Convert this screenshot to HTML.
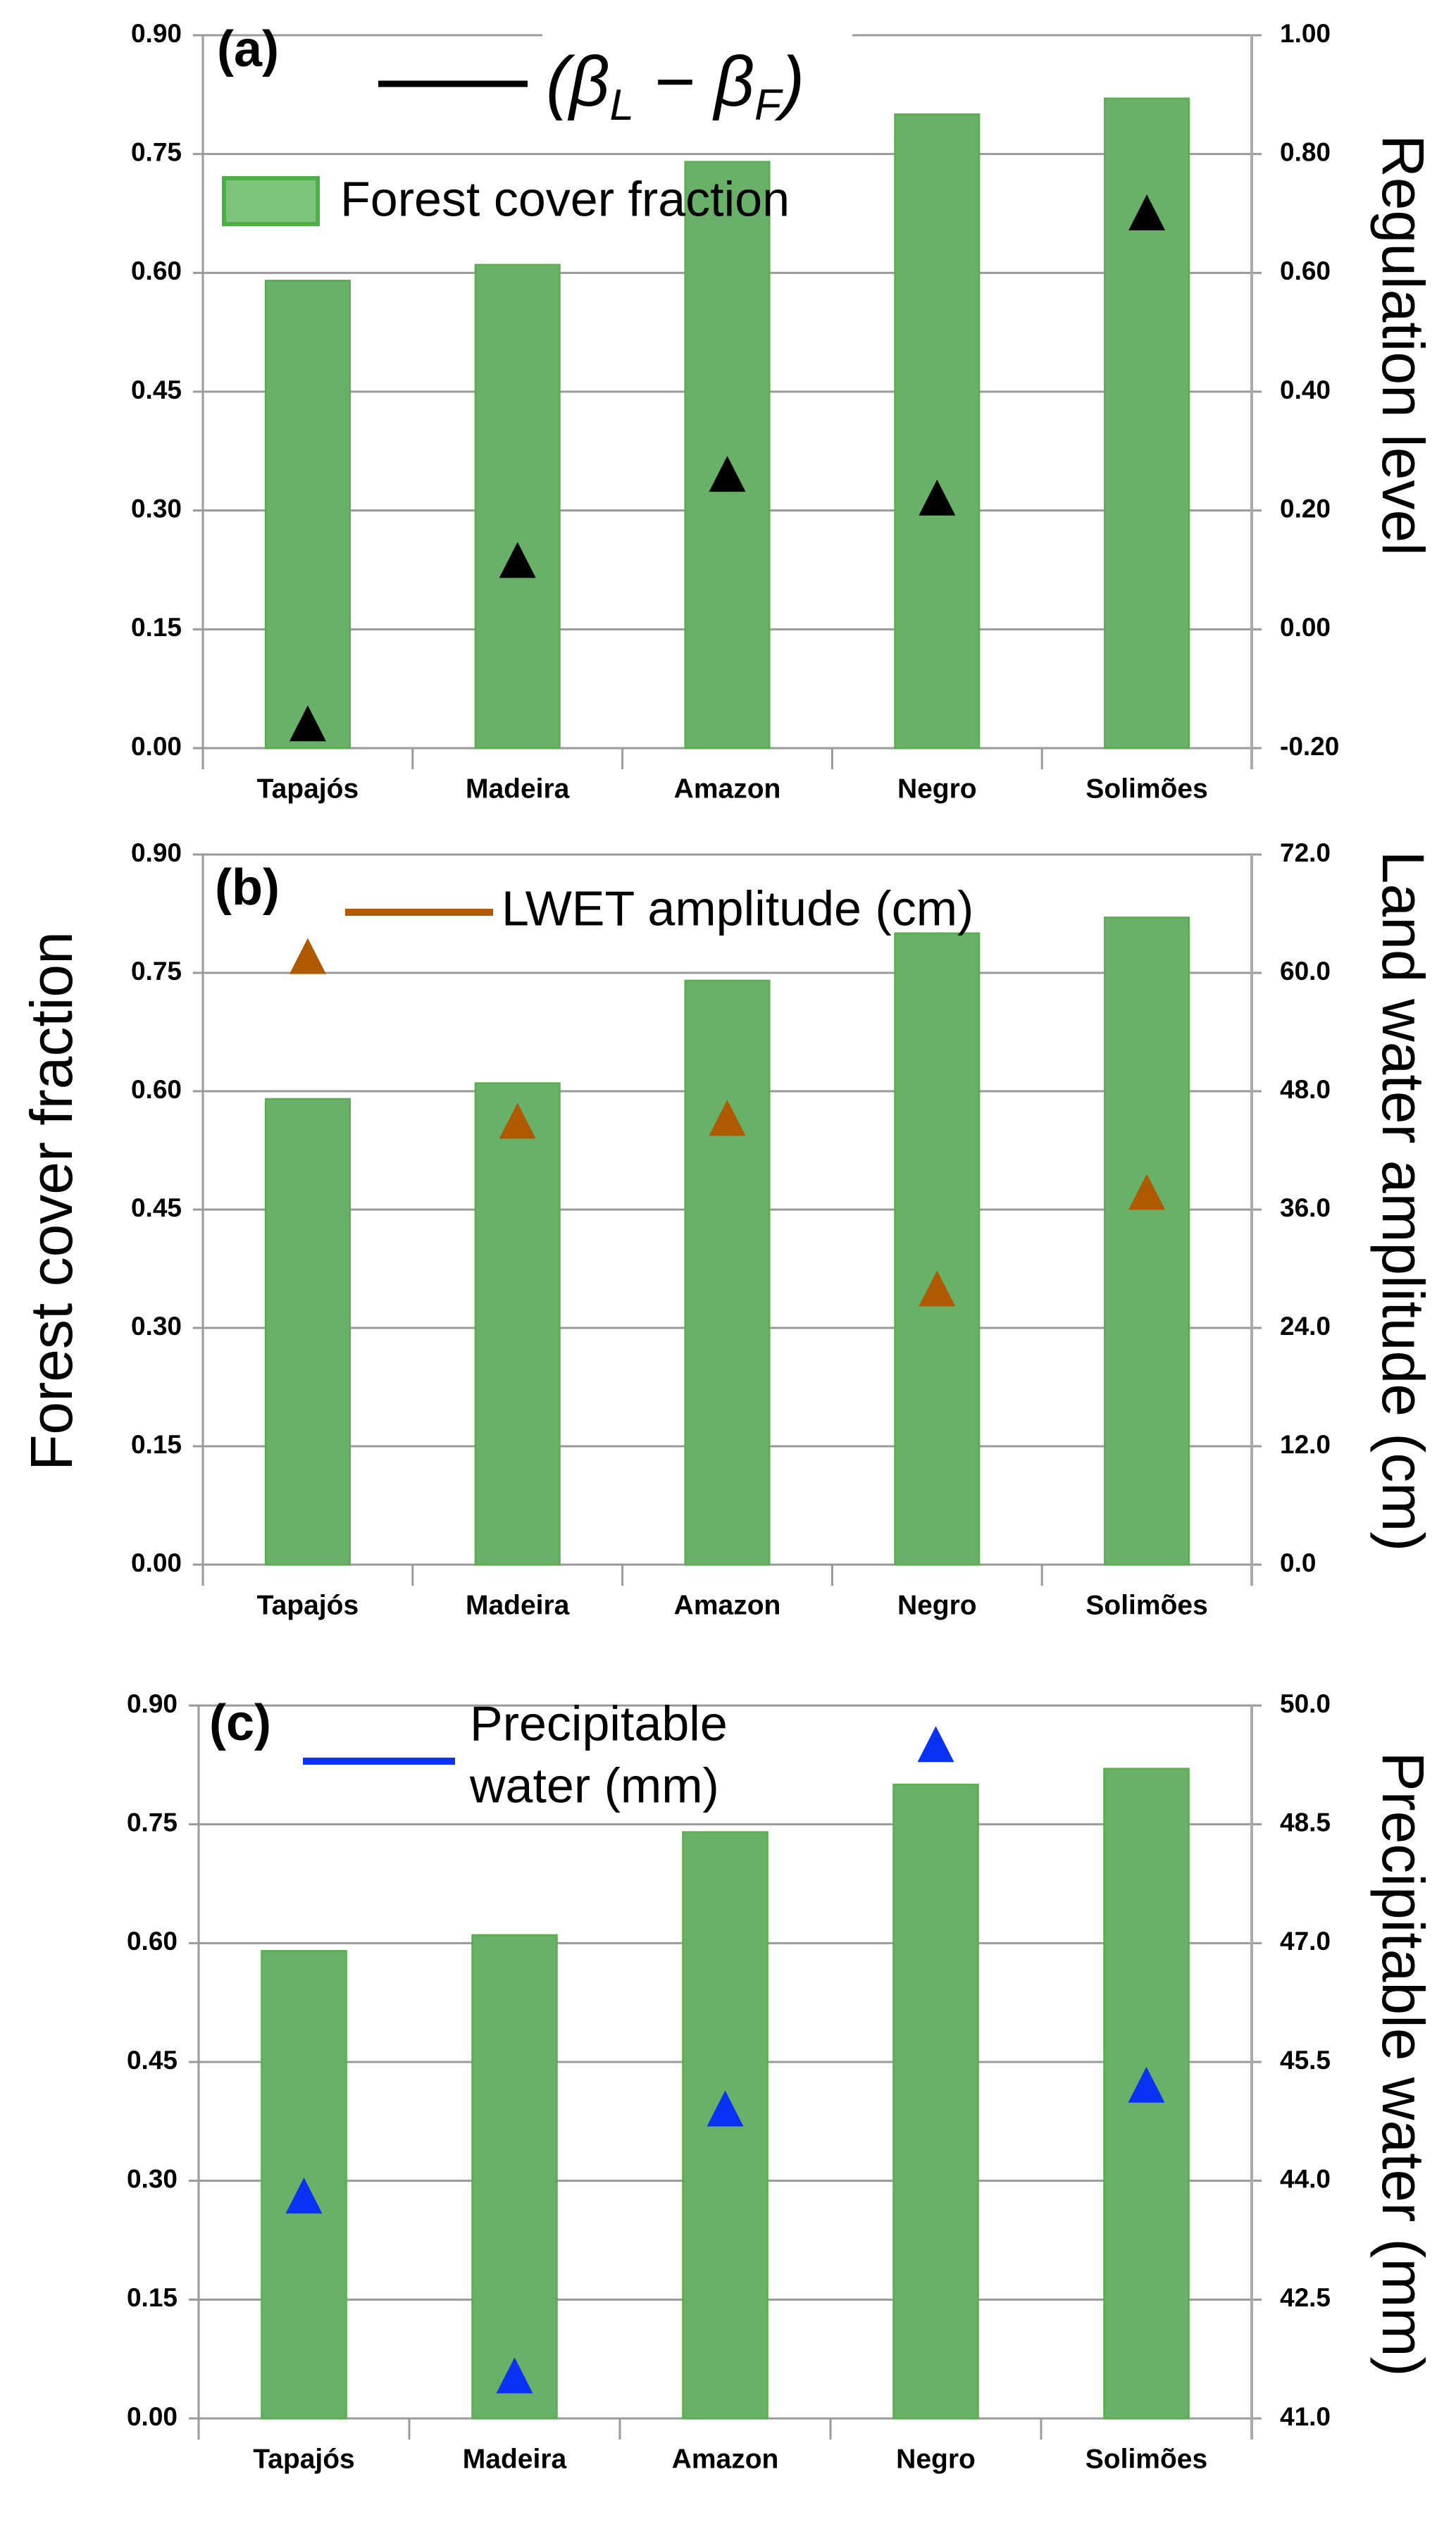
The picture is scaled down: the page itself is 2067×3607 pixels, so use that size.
<!DOCTYPE html>
<html><head><meta charset="utf-8"><style>
html,body{margin:0;padding:0;background:#fff;}
svg{display:block;}
text{font-family:"Liberation Sans",sans-serif;}
</style></head><body>
<svg id="chart" width="2067" height="3607" viewBox="0 0 2067 3607" xmlns="http://www.w3.org/2000/svg">
<text x="0" y="0" transform="translate(80,1705) rotate(-90)" font-size="84" text-anchor="middle" dominant-baseline="middle">Forest cover fraction</text>
</svg>
<script>
const categories = ["Tapajós","Madeira","Amazon","Negro","Solimões"];
const forestCover = [0.59, 0.61, 0.74, 0.80, 0.82];
const regulation = [-0.16, 0.115, 0.26, 0.22, 0.70];
const lwetAmplitude = [61.6, 44.9, 45.2, 27.9, 37.7];
const precipWater = [43.8, 41.53, 44.9, 49.5, 45.2];
const leftTicks = ["0.00","0.15","0.30","0.45","0.60","0.75","0.90"];
const rightTicksA = ["-0.20","0.00","0.20","0.40","0.60","0.80","1.00"];
const rightTicksB = ["0.0","12.0","24.0","36.0","48.0","60.0","72.0"];
const rightTicksC = ["41.0","42.5","44.0","45.5","47.0","48.5","50.0"];

const NS="http://www.w3.org/2000/svg";
const svg=document.getElementById('chart');
function mk(tag,attrs,parent,txt){const e=document.createElementNS(NS,tag);for(const k in attrs)e.setAttribute(k,attrs[k]);if(txt!==undefined)e.textContent=txt;(parent||svg).appendChild(e);return e;}

const panels=[
 {id:'a',left:288,right:1777,top:50,bottom:1062,rmin:-0.2,rmax:1.0,vals:regulation,ticks:rightTicksA,color:'#000000',title:'Regulation level',titleY:490},
 {id:'b',left:288,right:1777,top:1213,bottom:2221,rmin:0,rmax:72,vals:lwetAmplitude,ticks:rightTicksB,color:'#b05a00',title:'Land water amplitude (cm)',titleY:1705},
 {id:'c',left:282,right:1777,top:2421,bottom:3433,rmin:41,rmax:50,vals:precipWater,ticks:rightTicksC,color:'#0a32f5',title:'Precipitable water (mm)',titleY:2930}
];

panels.forEach(p=>{
 const g=mk('g',{});
 
 
 const yL=v=>p.bottom-(v/0.9)*(p.bottom-p.top);
 const yR=v=>p.bottom-(v-p.rmin)/(p.rmax-p.rmin)*(p.bottom-p.top);
 const band=(p.right-p.left)/categories.length;
 const xC=i=>p.left+band*(i+0.5);
 leftTicks.forEach((t,i)=>{
  const v=parseFloat(t);const y=yL(v);
  const gl=mk('line',{x1:p.left-14,x2:p.right+14,y1:y,y2:y,stroke:'#999',"stroke-width":3},g);
  
  
  const tl=mk('text',{x:p.left-30,y:y,"font-size":37,"font-weight":"bold","text-anchor":"end","dominant-baseline":"middle"},g,t);
  
  
 });
 p.ticks.forEach((t,i)=>{
  const y=p.bottom-i/(p.ticks.length-1)*(p.bottom-p.top);
  const tr=mk('text',{x:p.right+40,y:y,"font-size":37,"font-weight":"bold","text-anchor":"start","dominant-baseline":"middle"},g,t);
  
  
 });
 const la=mk('line',{x1:p.left,x2:p.left,y1:p.top,y2:p.bottom+30,stroke:'#999',"stroke-width":3},g);
 
 
 const ra=mk('line',{x1:p.right,x2:p.right,y1:p.top,y2:p.bottom+30,stroke:'#aaa',"stroke-width":4},g);
 
 
 for(let i=1;i<categories.length;i++){
  const tk=mk('line',{x1:p.left+band*i,x2:p.left+band*i,y1:p.bottom,y2:p.bottom+30,stroke:'#999',"stroke-width":3},g);
  
  
 }
 categories.forEach((c,i)=>{
  const bw=band*0.4;
  const b=mk('rect',{x:xC(i)-bw/2,y:yL(forestCover[i]),width:bw,height:p.bottom-yL(forestCover[i]),fill:'#69b168',stroke:'#5cae52',"stroke-width":3},g);
  
  
  const lbl=mk('text',{x:xC(i),y:p.bottom+60,"font-size":39,"font-weight":"bold","text-anchor":"middle","dominant-baseline":"middle"},g,c);
  
  
 });
 categories.forEach((c,i)=>{
  const x=xC(i),y=yR(p.vals[i]);
  const tri=mk('polygon',{points:`${x},${y-27} ${x-26},${y+24} ${x+26},${y+24}`,fill:p.color},g);
  
  
 });
 const ttl=mk('text',{x:0,y:0,transform:`translate(1985,${p.titleY}) rotate(90)`,"font-size":84,"text-anchor":"middle","dominant-baseline":"middle"},g,p.title);
 
 
});

function lg(name,el){}
let e;
e=mk('rect',{x:770,y:40,width:440,height:20,fill:'#fff'}); lg('legend-background',e);
e=mk('text',{x:308,y:94,"font-size":72,"font-weight":"bold"},svg,'(a)'); lg('panel-label-a',e);
e=mk('line',{x1:537,x2:749,y1:119,y2:119,stroke:'#000',"stroke-width":9}); lg('legend-line-regulation',e);
e=mk('text',{x:775,y:150,"font-size":100,"font-style":"italic","font-family":"Liberation Serif, serif"},svg,''); lg('legend-text-regulation',e);
e.innerHTML='(β<tspan font-size="62" dy="20">L</tspan><tspan dy="-20"> − β</tspan><tspan font-size="62" dy="20">F</tspan><tspan dy="-20">)</tspan>';
e=mk('rect',{x:318,y:253,width:133,height:65,fill:'#7cc47a',stroke:'#4cae44',"stroke-width":6}); lg('legend-swatch-forest',e);
e=mk('text',{x:483,y:288,"font-size":70,"dominant-baseline":"middle"},svg,'Forest cover fraction'); lg('legend-text-forest',e);

e=mk('text',{x:305,y:1284,"font-size":72,"font-weight":"bold"},svg,'(b)'); lg('panel-label-b',e);
e=mk('line',{x1:490,x2:700,y1:1295,y2:1295,stroke:'#b05a00',"stroke-width":10}); lg('legend-line-lwet',e);
e=mk('text',{x:712,y:1295,"font-size":70,"dominant-baseline":"middle"},svg,'LWET amplitude (cm)'); lg('legend-text-lwet',e);

e=mk('text',{x:297,y:2470,"font-size":72,"font-weight":"bold"},svg,'(c)'); lg('panel-label-c',e);
e=mk('line',{x1:430,x2:646,y1:2500,y2:2500,stroke:'#0a32f5',"stroke-width":10}); lg('legend-line-precip',e);
e=mk('text',{x:667,y:2452,"font-size":70,"dominant-baseline":"middle"},svg,'Precipitable'); lg('legend-text-precip-1',e);
e=mk('text',{x:667,y:2540,"font-size":70,"dominant-baseline":"middle"},svg,'water (mm)'); lg('legend-text-precip-2',e);
</script>
</body></html>
